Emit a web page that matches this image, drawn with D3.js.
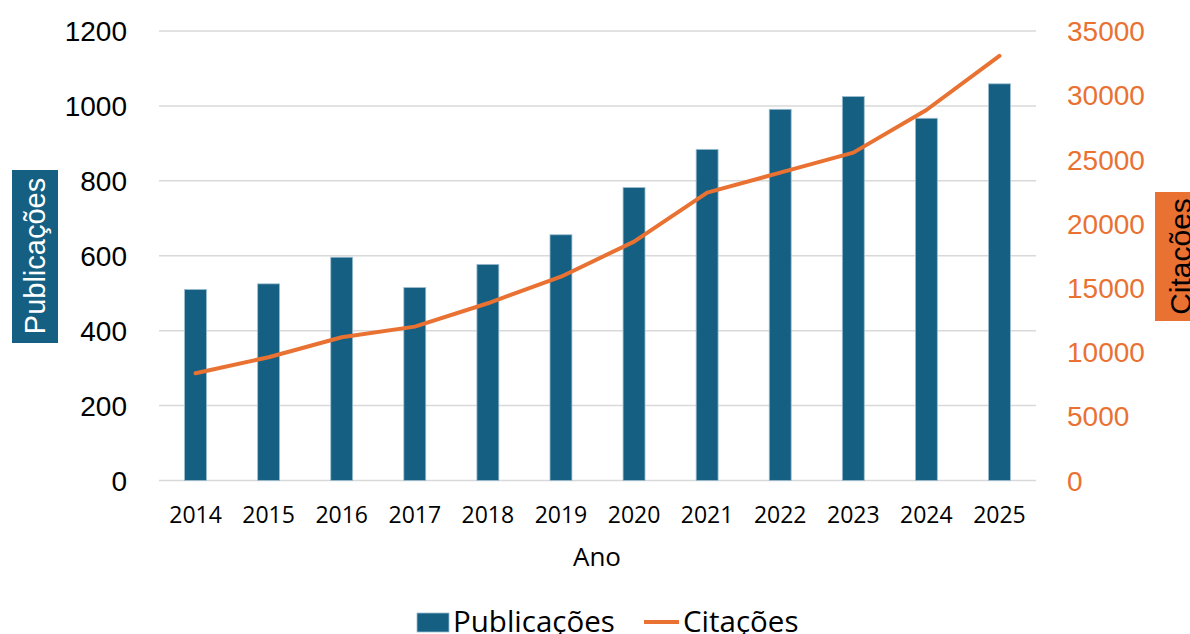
<!DOCTYPE html>
<html lang="pt">
<head>
<meta charset="UTF-8" />
<title>Publicações e Citações por Ano</title>
<script src="https://d3js.org/d3.v7.min.js"></script>
<style>
  body { margin: 0; background: #fff; }
  svg { display: block; }
  .num { font-family: "Liberation Sans", Arial, sans-serif; }
  .lbl { font-family: "Open Sans", "Noto Sans", sans-serif; }
</style>
</head>
<body>
<svg id="chart"></svg>
<script>
// data
const years = ["2014","2015","2016","2017","2018","2019","2020","2021","2022","2023","2024","2025"];
const publicacoes = [510, 525, 596, 515, 577, 656, 782, 884, 991, 1025, 967, 1059];
const citacoes = [8350, 9600, 11150, 11980, 13800, 15870, 18600, 22410, 23970, 25530, 28850, 33060];
const leftTicks = [0, 200, 400, 600, 800, 1000, 1200];
const rightTicks = [0, 5000, 10000, 15000, 20000, 25000, 30000, 35000];

const W = 1190, H = 634;
const barColor = "#156082", lineColor = "#E97132";

const svg = d3.select("#chart").attr("width", W).attr("height", H);

const x = d3.scaleBand().domain(years).range([159, 1036]).paddingInner(0.7).paddingOuter(0.35);
const yL = d3.scaleLinear().domain([0, 1200]).range([480.5, 31]);
const yR = d3.scaleLinear().domain([0, 35000]).range([480.5, 31]);

// gridlines
svg.append("g")
  .selectAll("line")
  .data(leftTicks)
  .enter().append("line")
  .attr("x1", 159).attr("x2", 1036)
  .attr("y1", d => yL(d)).attr("y2", d => yL(d))
  .attr("stroke", "#d9d9d9")
  .attr("stroke-width", 1.5);

// left tick labels
svg.append("g")
  .selectAll("text")
  .data(leftTicks)
  .enter().append("text")
  .attr("class", "num")
  .attr("x", 127)
  .attr("y", d => yL(d))
  .attr("dy", "0.36em")
  .attr("text-anchor", "end")
  .attr("font-size", 28)
  .attr("fill", "#000")
  .text(d => d);

// right tick labels
svg.append("g")
  .selectAll("text")
  .data(rightTicks)
  .enter().append("text")
  .attr("class", "num")
  .attr("x", 1067)
  .attr("y", d => yR(d))
  .attr("dy", "0.36em")
  .attr("text-anchor", "start")
  .attr("font-size", 28)
  .attr("fill", lineColor)
  .text(d => d);

// bars
svg.append("g")
  .selectAll("rect")
  .data(years)
  .enter().append("rect")
  .attr("x", d => x(d))
  .attr("width", x.bandwidth())
  .attr("y", (d, i) => yL(publicacoes[i]))
  .attr("height", (d, i) => yL(0) - yL(publicacoes[i]))
  .attr("fill", barColor)
  .attr("stroke", "#9dbdd0")
  .attr("stroke-width", 0.8);

// line
const line = d3.line()
  .x((d, i) => x(years[i]) + x.bandwidth() / 2)
  .y(d => yR(d));

svg.append("path")
  .datum(citacoes)
  .attr("d", line)
  .attr("fill", "none")
  .attr("stroke", lineColor)
  .attr("stroke-width", 4)
  .attr("stroke-linejoin", "round")
  .attr("stroke-linecap", "round");

// year labels
svg.append("g")
  .selectAll("text")
  .data(years)
  .enter().append("text")
  .attr("class", "lbl")
  .attr("x", d => x(d) + x.bandwidth() / 2)
  .attr("y", 515)
  .attr("dy", "0.36em")
  .attr("text-anchor", "middle")
  .attr("font-size", 23)
  .text(d => d);

// x title
svg.append("text")
  .attr("class", "lbl")
  .attr("x", 597)
  .attr("y", 557)
  .attr("dy", "0.36em")
  .attr("text-anchor", "middle")
  .attr("font-size", 26)
  .text("Ano");

// left axis title with box
svg.append("rect")
  .attr("x", 12).attr("y", 170)
  .attr("width", 46).attr("height", 173)
  .attr("fill", barColor);
svg.append("text")
  .attr("class", "num")
  .attr("transform", "translate(35,256) rotate(-90)")
  .attr("dy", "0.36em")
  .attr("text-anchor", "middle")
  .attr("font-size", 29)
  .attr("fill", "#fff")
  .text("Publicações");

// right axis title with box (runs off the right edge, like the reference)
svg.append("rect")
  .attr("x", 1155).attr("y", 192)
  .attr("width", 46).attr("height", 129)
  .attr("fill", lineColor);
svg.append("text")
  .attr("class", "num")
  .attr("transform", "translate(1180,256.5) rotate(-90)")
  .attr("dy", "0.36em")
  .attr("text-anchor", "middle")
  .attr("font-size", 30)
  .attr("fill", "#000")
  .text("Citações");

// legend
const legend = svg.append("g").attr("class", "lbl");
legend.append("rect")
  .attr("x", 417).attr("y", 613)
  .attr("width", 32).attr("height", 19)
  .attr("fill", barColor)
  .attr("stroke", "#9dbdd0").attr("stroke-width", 0.8);
legend.append("text")
  .attr("x", 453).attr("y", 621)
  .attr("dy", "0.36em")
  .attr("font-size", 29.5)
  .text("Publicações");
legend.append("line")
  .attr("x1", 644).attr("x2", 679)
  .attr("y1", 622).attr("y2", 622)
  .attr("stroke", lineColor).attr("stroke-width", 4);
legend.append("text")
  .attr("x", 683).attr("y", 621)
  .attr("dy", "0.36em")
  .attr("font-size", 29.5)
  .text("Citações");
</script>
</body>
</html>
